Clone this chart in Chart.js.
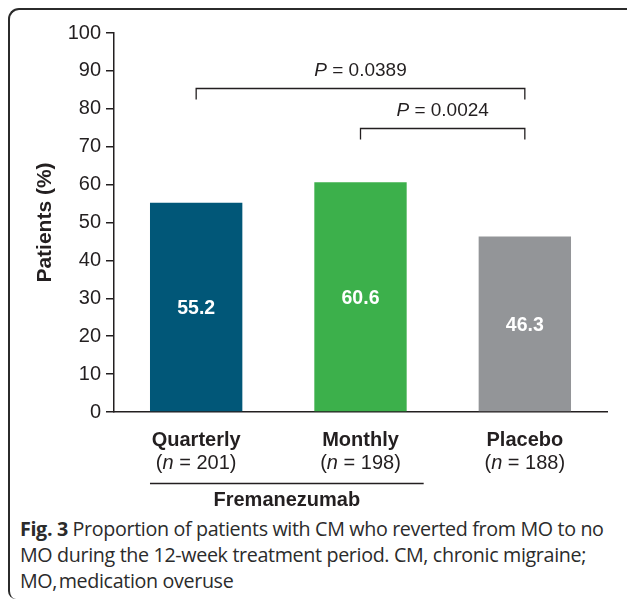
<!DOCTYPE html>
<html>
<head>
<meta charset="utf-8">
<script src="https://cdn.jsdelivr.net/npm/chart.js@4"></script>
<style>
  html, body { margin: 0; padding: 0; background: #fff; }
  #wrap { position: relative; width: 627px; height: 605px; overflow: hidden; }
  #frame { position: absolute; left: 8px; top: 8px; width: 700px; height: 591px;
           border-left: 2px solid #2b2b2b; border-top: 2px solid #2b2b2b;
           border-top-left-radius: 11px; border-bottom-left-radius: 8px; box-sizing: border-box; }
  #cv { position: absolute; left: 0; top: 0; }
  #caption { position: absolute; left: 20px; top: 516px; width: 640px; white-space: nowrap;
             font-family: "Open Sans", sans-serif; font-size: 19.7px; line-height: 26px;
             color: #2b2b2b; letter-spacing: -0.35px; }
  #caption b { font-weight: 700; }
</style>
</head>
<body>
<div id="wrap">
  <div id="frame"></div>
  <canvas id="cv" width="627" height="515"></canvas>
  <div id="caption"><b>Fig. 3</b> Proportion of patients with CM who reverted from MO to no<br>MO during the 12-week treatment period. CM, chronic migraine;<br>MO,&#8202;medication overuse</div>
</div>
<script>
const categories = ["Quarterly", "Monthly", "Placebo"];
const sampleSizes = ["201", "198", "188"];
const values = [55.2, 60.6, 46.3];
const barColors = ["#015778", "#3cb04b", "#939598"];
const yTicks = [0, 10, 20, 30, 40, 50, 60, 70, 80, 90, 100];
const groupLabel = "Fremanezumab";
const groupMembers = [0, 1];
const comparisons = [
  { from: 0, to: 2, level: 85.5, text: "0.0389" },
  { from: 1, to: 2, level: 74.9, text: "0.0024" }
];

const INK = "#231f20";
const FONT = "'Liberation Sans', Arial, sans-serif";

const annotate = {
  id: "annotate",
  afterDatasetsDraw(chart) {
    const ctx = chart.ctx;
    const xs = chart.scales.x, ys = chart.scales.y;
    const meta = chart.getDatasetMeta(0);
    ctx.save();
    // value labels inside bars
    ctx.fillStyle = "#ffffff";
    ctx.font = "bold 19.5px " + FONT;
    ctx.textAlign = "center";
    ctx.textBaseline = "middle";
    values.forEach((v, i) => {
      const x = xs.getPixelForValue(i);
      const y = ys.getPixelForValue(v / 2);
      ctx.fillText(v.toFixed(1), x, y + 1);
    });
    // comparison brackets
    ctx.strokeStyle = INK;
    ctx.lineWidth = 1.3;
    ctx.fillStyle = INK;
    const PF = "19px " + FONT;
    comparisons.forEach(c => {
      const x1 = xs.getPixelForValue(c.from);
      const x2 = xs.getPixelForValue(c.to);
      const y = Math.round(ys.getPixelForValue(c.level)) + 0.5;
      const drop = 11;
      ctx.beginPath();
      ctx.moveTo(x1, y + drop);
      ctx.lineTo(x1, y);
      ctx.lineTo(x2, y);
      ctx.lineTo(x2, y + drop);
      ctx.stroke();
      const mid = (x1 + x2) / 2;
      const ty = y - 18;
      ctx.font = "italic " + PF;
      const wP = ctx.measureText("P").width;
      ctx.font = PF;
      const rest = " = " + c.text;
      const wR = ctx.measureText(rest).width;
      let sx = mid - (wP + wR) / 2;
      ctx.textAlign = "left";
      ctx.font = "italic " + PF;
      ctx.fillText("P", sx, ty);
      ctx.font = PF;
      ctx.fillText(rest, sx + wP, ty);
    });
    // sample sizes
    const NF = "20px " + FONT;
    ctx.textBaseline = "middle";
    sampleSizes.forEach((n, i) => {
      const x = xs.getPixelForValue(i);
      const y = 463;
      ctx.font = NF;
      const a = "(", b = " = " + n + ")";
      const wa = ctx.measureText(a).width, wb = ctx.measureText(b).width;
      ctx.font = "italic " + NF;
      const wn = ctx.measureText("n").width;
      let sx = x - (wa + wn + wb) / 2;
      ctx.textAlign = "left";
      ctx.font = NF;
      ctx.fillText(a, sx, y);
      ctx.font = "italic " + NF;
      ctx.fillText("n", sx + wa, y);
      ctx.font = NF;
      ctx.fillText(b, sx + wa + wn, y);
    });
    // group line + label
    const bars = groupMembers.map(i => meta.data[i]);
    const gx1 = bars[0].x - bars[0].width / 2;
    const gx2 = bars[bars.length - 1].x + bars[bars.length - 1].width / 2 + 17;
    ctx.lineWidth = 1.3;
    ctx.beginPath();
    ctx.moveTo(gx1, 483.5);
    ctx.lineTo(gx2, 483.5);
    ctx.stroke();
    ctx.font = "bold 20px " + FONT;
    ctx.textAlign = "center";
    ctx.fillText(groupLabel, (gx1 + gx2) / 2, 500);
    ctx.restore();
  }
};

new Chart(document.getElementById("cv"), {
  type: "bar",
  data: {
    labels: categories,
    datasets: [{
      data: values,
      backgroundColor: barColors,
      borderWidth: 0,
      barPercentage: 0.562,
      categoryPercentage: 1.0
    }]
  },
  options: {
    responsive: false,
    animation: false,
    devicePixelRatio: 1,
    layout: { padding: { left: 0, right: 20, top: 33, bottom: 0 } },
    plugins: { legend: { display: false }, tooltip: { enabled: false } },
    scales: {
      y: {
        min: 0, max: 100,
        afterFit(scale) { scale.width = 114; },
        afterBuildTicks(scale) { scale.ticks = yTicks.map(v => ({ value: v })); },
        border: { display: true, color: INK, width: 1.5 },
        grid: { display: true, drawOnChartArea: false, drawTicks: true, tickLength: 8, color: INK, lineWidth: 1.5 },
        ticks: { color: INK, font: { family: FONT, size: 20 }, padding: 5 },
        title: { display: true, text: "Patients (%)", color: INK,
                 font: { family: FONT, size: 21, weight: "bold" }, padding: { top: 33, bottom: 0 } }
      },
      x: {
        afterFit(scale) { scale.height = 103; },
        border: { display: true, color: INK, width: 1.5 },
        grid: { display: false, drawTicks: false },
        ticks: { color: INK, font: { family: FONT, size: 20, weight: "bold" }, padding: 16, maxRotation: 0 }
      }
    }
  },
  plugins: [annotate]
});
</script>
</body>
</html>
